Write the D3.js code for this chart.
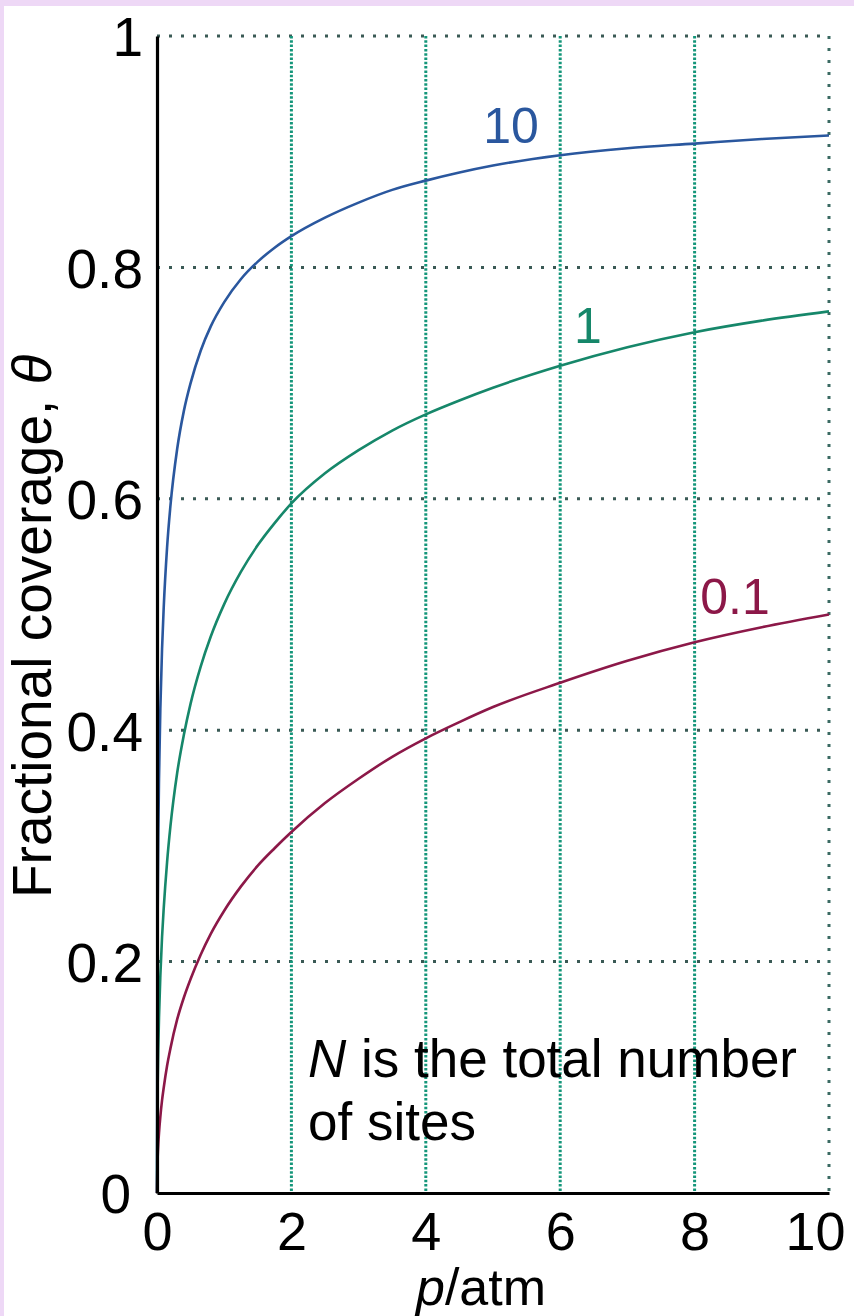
<!DOCTYPE html>
<html><head><meta charset="utf-8">
<script src="https://cdn.jsdelivr.net/npm/d3@7"></script>
<style>
body{margin:0;background:#fff;}
svg{display:block;font-family:"Liberation Sans",Arial,sans-serif;}
</style></head>
<body>
<svg id="c" width="854" height="1316"></svg>
<script>
// Data
const pressure = [0, 0.005, 0.01, 0.02, 0.03, 0.05, 0.075, 0.1, 0.15, 0.2, 0.3, 0.4, 0.5, 0.65, 0.8, 1, 1.25, 1.5, 1.75, 2, 2.5, 3, 3.5, 4, 4.5, 5, 6, 7, 8, 9, 10];
const theta10  = [0, 0.185, 0.243, 0.313, 0.358, 0.419, 0.470, 0.506, 0.558, 0.594, 0.643, 0.676, 0.700, 0.728, 0.749, 0.770, 0.790, 0.805, 0.817, 0.827, 0.843, 0.856, 0.867, 0.875, 0.882, 0.888, 0.897, 0.903, 0.907, 0.911, 0.914];
const theta1   = [0, 0.067, 0.093, 0.127, 0.152, 0.188, 0.221, 0.246, 0.286, 0.317, 0.363, 0.396, 0.423, 0.455, 0.481, 0.509, 0.537, 0.560, 0.579, 0.596, 0.622, 0.642, 0.659, 0.673, 0.685, 0.696, 0.715, 0.731, 0.744, 0.754, 0.762];
const theta01  = [0, 0.022, 0.031, 0.043, 0.052, 0.066, 0.080, 0.091, 0.110, 0.125, 0.150, 0.169, 0.185, 0.206, 0.224, 0.244, 0.265, 0.283, 0.298, 0.312, 0.337, 0.358, 0.377, 0.393, 0.407, 0.420, 0.441, 0.460, 0.476, 0.489, 0.500];
const seriesNames = ["10", "1", "0.1"];
const xTicks = [0, 2, 4, 6, 8, 10];
const yTicks = [0, 0.2, 0.4, 0.6, 0.8, 1];

const svg = d3.select("#c");
const x = d3.scaleLinear().domain([0, 10]).range([157, 829]);
const y = d3.scaleLinear().domain([0, 1]).range([1193, 36]);

// lavender frame strips
svg.append("rect").attr("x",0).attr("y",0).attr("width",854).attr("height",6).attr("fill","#eed8f6");
svg.append("rect").attr("x",0).attr("y",0).attr("width",4).attr("height",1316).attr("fill","#eed8f6");

// horizontal dotted gridlines
svg.append("g").selectAll("line").data(yTicks.filter(d=>d>0)).join("line")
  .attr("x1", x(0)).attr("x2", x(10)).attr("y1", d=>y(d)).attr("y2", d=>y(d))
  .attr("stroke", "#3a5a55").attr("stroke-width", 3).attr("stroke-dasharray", "3,9");
// vertical teal gridlines
svg.append("g").selectAll("line").data(xTicks.filter(d=>d>0 && d<10)).join("line")
  .attr("x1", d=>x(d)).attr("x2", d=>x(d)).attr("y1", y(1)).attr("y2", y(0))
  .attr("stroke", "#14967a").attr("stroke-width", 3).attr("stroke-dasharray", "2.5,1.8");
svg.append("line").attr("x1", x(10)).attr("x2", x(10)).attr("y1", y(1)).attr("y2", y(0))
  .attr("stroke", "#3a6a62").attr("stroke-width", 3).attr("stroke-dasharray", "3,9");

// curves
const line = d3.line().x(d=>x(d[0])).y(d=>y(d[1])).curve(d3.curveMonotoneX);
const series = [
  {name: seriesNames[0], vals: theta10, color: "#2a579e"},
  {name: seriesNames[1], vals: theta1, color: "#16876a"},
  {name: seriesNames[2], vals: theta01, color: "#8c1848"}
];
series.forEach(s => {
  svg.append("path").datum(pressure.map((p,i)=>[p, s.vals[i]]))
    .attr("d", line).attr("fill","none").attr("stroke", s.color).attr("stroke-width", 2.6);
});

// axes
const xAxis = svg.append("g").attr("transform", `translate(0,${y(0)})`)
  .call(d3.axisBottom(x).tickValues(xTicks).tickSize(0).tickPadding(19).tickFormat(d3.format("d")));
xAxis.select(".domain").attr("stroke","#000").attr("stroke-width",3.2);
xAxis.selectAll("text").attr("font-size", 54).attr("fill","#000").attr("font-family","Liberation Sans, Arial, sans-serif")
  .attr("dy","0.71em")
  .attr("dx", d => d === 10 ? -14 : 0);
const yAxis = svg.append("g").attr("transform", `translate(${x(0)},0)`)
  .call(d3.axisLeft(y).tickValues(yTicks).tickSize(0).tickPadding(14).tickFormat(d => d === 0 || d === 1 ? d3.format("d")(d) : d3.format(".1f")(d)));
yAxis.select(".domain").attr("stroke","#000").attr("stroke-width",3.2);
yAxis.selectAll("text").attr("font-size", 55).attr("fill","#000").attr("font-family","Liberation Sans, Arial, sans-serif")
  .attr("dy","0.36em")
  .attr("dx", d => d === 0 ? -12 : 0);

// curve labels
svg.append("text").attr("x", 511).attr("y", 143).attr("text-anchor","middle").attr("font-size",50).attr("fill","#2a579e").text(seriesNames[0]);
svg.append("text").attr("x", 588).attr("y", 343).attr("text-anchor","middle").attr("font-size",50).attr("fill","#16876a").text(seriesNames[1]);
svg.append("text").attr("x", 735).attr("y", 614).attr("text-anchor","middle").attr("font-size",50).attr("fill","#8c1848").text(seriesNames[2]);

// axis titles
const yl = svg.append("text").attr("transform","translate(51,898) rotate(-90)").attr("font-size",55).attr("fill","#000");
yl.append("tspan").text("Fractional coverage, ");
yl.append("tspan").attr("font-style","italic").text("θ");
const xl = svg.append("text").attr("x", 481).attr("y", 1305).attr("text-anchor","middle").attr("font-size",52).attr("fill","#000");
xl.append("tspan").attr("font-style","italic").text("p");
xl.append("tspan").text("/atm");

// annotation
const ann = svg.append("text").attr("x", 308).attr("y", 1077).attr("font-size",53).attr("fill","#000");
ann.append("tspan").attr("font-style","italic").text("N");
ann.append("tspan").text(" is the total number");
svg.append("text").attr("x", 308).attr("y", 1140).attr("font-size",53).attr("fill","#000").text("of sites");
</script>
</body></html>
